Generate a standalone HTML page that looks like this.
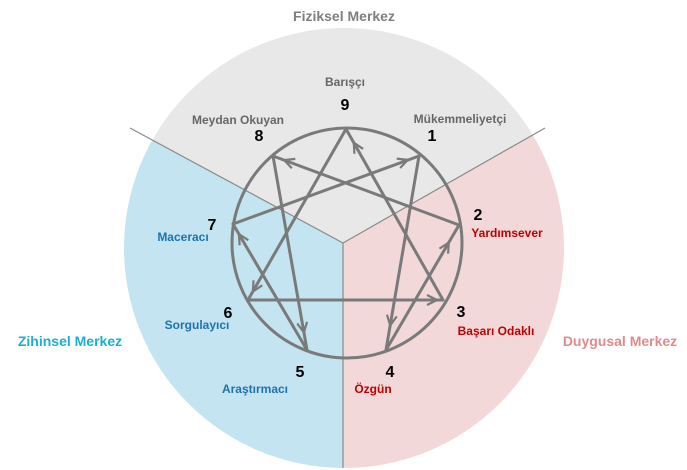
<!DOCTYPE html>
<html><head><meta charset="utf-8"><style>
html,body{margin:0;background:#fff;width:687px;height:470px;overflow:hidden;}
svg{display:block;font-family:"Liberation Sans",sans-serif;}
</style></head><body>
<svg width="687" height="470" viewBox="0 0 687 470">
<defs>
<marker id="a" viewBox="0 0 12 12" refX="11" refY="6" markerWidth="12" markerHeight="12" markerUnits="userSpaceOnUse" orient="auto">
<path d="M1,1 L11,6 L1,11" fill="none" stroke="#7a7a7a" stroke-width="2.2"/>
</marker>
<clipPath id="c"><circle cx="344" cy="248" r="220"/></clipPath>
</defs>
<g clip-path="url(#c)">
<path d="M343,243 L0,58 L0,0 L687,0 L687,47 Z" fill="#e8e8e8"/>
<path d="M343,243 L0,58 L0,470 L343,470 Z" fill="#c3e4f0"/>
<path d="M343,243 L687,47 L687,470 L343,470 Z" fill="#f2d8d8"/>
</g>
<g stroke="#8a8a8a" stroke-width="1.2">
<line x1="343" y1="243" x2="130" y2="128"/>
<line x1="343" y1="243" x2="545" y2="128"/>
<line x1="343" y1="243" x2="343" y2="468"/>
</g>
<circle cx="347" cy="243" r="115" fill="none" stroke="#7a7a7a" stroke-width="3"/>
<g stroke="#7a7a7a" stroke-width="3" fill="none" stroke-linecap="round">
<line x1="419" y1="156" x2="386" y2="350"/>
<line x1="386" y1="350" x2="459" y2="225"/>
<line x1="459" y1="225" x2="273" y2="156"/>
<line x1="273" y1="156" x2="307" y2="350"/>
<line x1="307" y1="350" x2="233" y2="224"/>
<line x1="233" y1="224" x2="419" y2="156"/>
<line x1="346" y1="129" x2="248" y2="300"/>
<line x1="248" y1="300" x2="443" y2="300"/>
<line x1="443" y1="300" x2="346" y2="129"/>
</g>
<g fill="none">
<line x1="419" y1="156" x2="390.2" y2="325.4" marker-end="url(#a)" stroke="#7a7a7a" stroke-width="0.1"/>
<line x1="386" y1="350" x2="448.8" y2="242.5" marker-end="url(#a)" stroke="#7a7a7a" stroke-width="0.1"/>
<line x1="459" y1="225" x2="284.2" y2="160.1" marker-end="url(#a)" stroke="#7a7a7a" stroke-width="0.1"/>
<line x1="273" y1="156" x2="303.9" y2="332.5" marker-end="url(#a)" stroke="#7a7a7a" stroke-width="0.1"/>
<line x1="307" y1="350" x2="238.9" y2="234.1" marker-end="url(#a)" stroke="#7a7a7a" stroke-width="0.1"/>
<line x1="233" y1="224" x2="407.8" y2="159.9" marker-end="url(#a)" stroke="#7a7a7a" stroke-width="0.1"/>
<line x1="346" y1="129" x2="252.9" y2="291.5" marker-end="url(#a)" stroke="#7a7a7a" stroke-width="0.1"/>
<line x1="248" y1="300" x2="437" y2="300" marker-end="url(#a)" stroke="#7a7a7a" stroke-width="0.1"/>
<line x1="443" y1="300" x2="353.8" y2="142.7" marker-end="url(#a)" stroke="#7a7a7a" stroke-width="0.1"/>
</g>
<g font-weight="bold" text-anchor="middle">
<text x="344" y="21" font-size="14" fill="#7f7f7f">Fiziksel Merkez</text>
<text x="70" y="346" font-size="14" fill="#1ab0d4">Zihinsel Merkez</text>
<text x="620" y="346" font-size="14" fill="#e08a8c">Duygusal Merkez</text>
<g font-size="16" fill="#000">
<text x="345" y="110">9</text>
<text x="432" y="141">1</text>
<text x="478" y="220">2</text>
<text x="461" y="317">3</text>
<text x="390" y="377">4</text>
<text x="300" y="377">5</text>
<text x="228" y="318">6</text>
<text x="212" y="230">7</text>
<text x="259" y="141">8</text>
</g>
<g font-size="12">
<text x="345" y="86" fill="#666">Barışçı</text>
<text x="460" y="123" fill="#666">Mükemmeliyetçi</text>
<text x="238" y="124" fill="#666">Meydan Okuyan</text>
<text x="507" y="237" fill="#c00000">Yardımsever</text>
<text x="496" y="335" fill="#c00000">Başarı Odaklı</text>
<text x="373" y="393" fill="#c00000">Özgün</text>
<text x="255" y="393" fill="#1f72b0">Araştırmacı</text>
<text x="197" y="329" fill="#1f72b0">Sorgulayıcı</text>
<text x="183" y="241" fill="#1f72b0">Maceracı</text>
</g>
</g>
</svg>
</body></html>
